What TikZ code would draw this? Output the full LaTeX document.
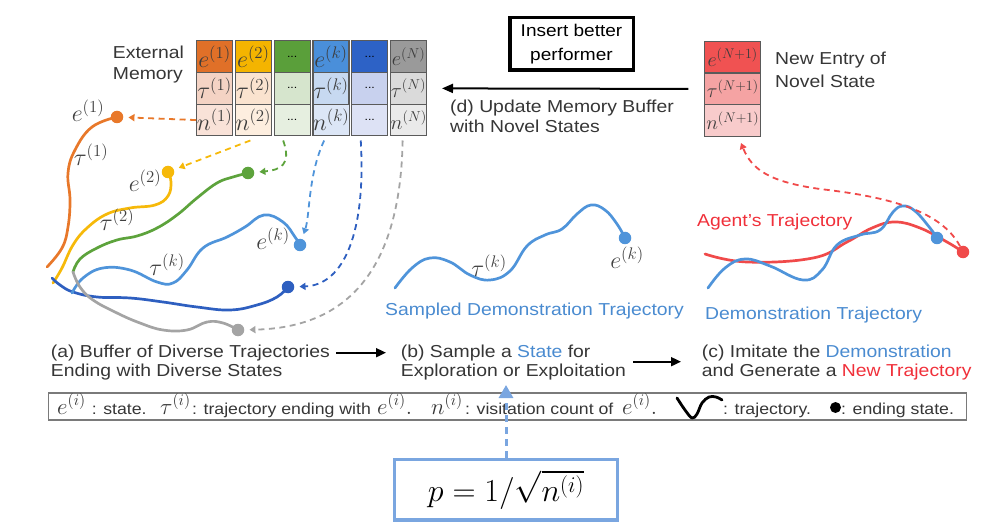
\RequirePackage{fix-cm}
\documentclass[tikz,border=0pt]{standalone}
\usepackage[no-math]{fontspec}
\setmainfont{Liberation Sans}[FakeStretch=1.12]
\usetikzlibrary{arrows.meta}
\definecolor{txtc}{HTML}{363636}
\definecolor{labc}{HTML}{404040}
\definecolor{cellbd}{HTML}{5A5A5A}
\definecolor{celltx}{HTML}{3C3C3C}
\definecolor{orC}{HTML}{E8782A}
\definecolor{yeC}{HTML}{F6B90A}
\definecolor{grC}{HTML}{5DA33C}
\definecolor{lbC}{HTML}{4F94DA}
\definecolor{dbC}{HTML}{2E5FC0}
\definecolor{gyC}{HTML}{A4A4A4}
\definecolor{rdC}{HTML}{F04A4A}
\definecolor{tblue}{HTML}{4A8BD0}
\definecolor{tred}{HTML}{F0303A}
\definecolor{pblue}{HTML}{7AA6E0}
\definecolor{legbd}{HTML}{7A7A7A}
% cell fills
\definecolor{o1}{HTML}{E07028}\definecolor{o2}{HTML}{F4D3C4}\definecolor{o3}{HTML}{F9E2D8}
\definecolor{y1}{HTML}{F4B400}\definecolor{y2}{HTML}{FAE3CF}\definecolor{y3}{HTML}{FDEEDF}
\definecolor{g1}{HTML}{5A9F3A}\definecolor{g2}{HTML}{D6E5CD}\definecolor{g3}{HTML}{E6EFE0}
\definecolor{b1}{HTML}{4A8FDA}\definecolor{b2}{HTML}{C7D9F1}\definecolor{b3}{HTML}{DCE6F6}
\definecolor{k1}{HTML}{2D62C6}\definecolor{k2}{HTML}{C8D1EE}\definecolor{k3}{HTML}{DDE2F5}
\definecolor{s1}{HTML}{9A9A9A}\definecolor{s2}{HTML}{DADADA}\definecolor{s3}{HTML}{EAEAEA}
\definecolor{r1}{HTML}{F05252}\definecolor{r2}{HTML}{F5A3A3}\definecolor{r3}{HTML}{F8CBCB}
\begin{document}
\begin{tikzpicture}[x=1pt,y=-1pt,
  cell/.style={draw=cellbd, line width=1.1pt, minimum width=36pt, minimum height=31.8pt,
    inner sep=0pt, anchor=north west, text=celltx, font=\fontsize{24}{24}\selectfont},
  smallcell/.style={cell, font=\fontsize{20.5}{20.5}\selectfont},
  dotcell/.style={cell, font=\fontsize{11}{11}\selectfont, text=black},
  ncell/.style={cell, minimum width=55.7pt, font=\fontsize{20}{20}\selectfont},
  traj/.style={line width=2.7pt, line cap=round, line join=round},
  dot/.style={circle, inner sep=0pt, minimum size=12.5pt},
  darr/.style={line width=1.8pt, dash pattern=on 6pt off 4.5pt, -{Triangle[length=6pt,width=7pt]}, shorten >=5pt},
  txt/.style={inner sep=0pt, anchor=base west, align=left, text=txtc},
  lab/.style={inner sep=0pt, text=labc, font=\fontsize{24}{24}\selectfont},
  ltext/.style={txt, font=\fontsize{15.8}{18}\selectfont},
  lmath/.style={txt, font=\fontsize{23}{23}\selectfont},
  barr/.style={line width=1.8pt, -{Triangle[length=10pt,width=9pt]}},
]
\useasboundingbox (0,0) rectangle (995,529);

% ---------- External memory table ----------
\node[cell, fill=o1] (c1e) at (196.0,40)    {$e^{(1)}$};
\node[cell, fill=o2] (c1t) at (196.0,71.8)  {$\tau^{(1)}$};
\node[cell, fill=o3] (c1n) at (196.0,103.6) {$n^{(1)}$};
\node[cell, fill=y1] (c2e) at (234.8,40)    {$e^{(2)}$};
\node[cell, fill=y2] (c2t) at (234.8,71.8)  {$\tau^{(2)}$};
\node[cell, fill=y3] (c2n) at (234.8,103.6) {$n^{(2)}$};
\node[dotcell, fill=g1] (c3e) at (273.6,40)    {...};
\node[dotcell, fill=g2] (c3t) at (273.6,71.8)  {...};
\node[dotcell, fill=g3] (c3n) at (273.6,103.6) {...};
\node[cell, fill=b1] (c4e) at (312.4,40)    {$e^{(k)}$};
\node[cell, fill=b2] (c4t) at (312.4,71.8)  {$\tau^{(k)}$};
\node[cell, fill=b3] (c4n) at (312.4,103.6) {$n^{(k)}$};
\node[dotcell, fill=k1] (c5e) at (351.2,40)    {...};
\node[dotcell, fill=k2] (c5t) at (351.2,71.8)  {...};
\node[dotcell, fill=k3] (c5n) at (351.2,103.6) {...};
\node[smallcell, fill=s1] (c6e) at (390.0,40)    {$e^{(N)}$};
\node[smallcell, fill=s2] (c6t) at (390.0,71.8)  {$\tau^{(N)}$};
\node[smallcell, fill=s3] (c6n) at (390.0,103.6) {$n^{(N)}$};

\node[txt, font=\fontsize{17.3}{21.5}\selectfont] (extmem) at (112.7,80) {External\\Memory};

% ---------- New entry ----------
\node[ncell, fill=r1] (ne1) at (704.3,40.7)  {$e^{(N+1)}$};
\node[ncell, fill=r2] (ne2) at (704.3,72.5)  {$\tau^{(N+1)}$};
\node[ncell, fill=r3] (ne3) at (704.3,104.3) {$n^{(N+1)}$};
\node[txt, font=\fontsize{17.3}{22.7}\selectfont] (newent) at (775,87.7) {New Entry of\\Novel State};

% ---------- update arrow ----------
\coordinate (dtip) at (442,88.4);
\draw[line width=2pt, -{Triangle[length=11pt,width=9pt]}] ([xshift=-16pt]ne2.west) -- (dtip);
\node[draw, line width=3.5pt, minimum width=123.5pt, minimum height=52.5pt, inner sep=0pt,
  align=center, font=\fontsize{17}{23.4}\selectfont, text=black] (ins) at (571.5,44) {Insert better\\performer};
\node[txt, font=\fontsize{17.3}{20}\selectfont] (dtext) at (450,132.3) {(d) Update Memory Buffer\\with Novel States};

% ---------- panel (a) trajectories ----------
\draw[traj, orC] plot[smooth, tension=0.7] coordinates {(47,267) (62,248) (68,227) (70,200) (68,173) (75,150) (92,127) (117,117)};
\draw[traj, yeC] plot[smooth, tension=0.7] coordinates {(53,283) (62,268) (73,245) (87,228) (107,214) (130,208) (155,205) (168,196) (171,182) (168,172)};
\draw[traj, grC] plot[smooth, tension=0.7] coordinates {(73,272) (80,259) (97,248) (117,240) (137,236) (157,228) (177,215) (197,198) (217,183) (233,177) (248,173)};
\draw[traj, dbC] plot[smooth, tension=0.7] coordinates {(52,278) (60,285) (73,292) (97,297) (130,298) (163,302) (197,307) (230,310) (257,305) (277,297) (288,287)};
\draw[traj, lbC] plot[smooth, tension=0.7] coordinates {(72,293) (83,278) (103,268) (130,270) (157,282) (173,283) (187,270) (203,248) (227,237) (245,227) (264,215) (283,222) (295,237) (300,245)};
\draw[traj, gyC] plot[smooth, tension=0.7] coordinates {(73,272) (80,287) (93,300) (117,313) (140,323) (163,330) (187,330) (207,322) (223,323) (238,330)};

\node[dot, fill=orC] (d1) at (117,117) {};
\node[dot, fill=yeC] (d2) at (168,172) {};
\node[dot, fill=grC] (d3) at (248,173) {};
\node[dot, fill=lbC] (d4) at (300,245) {};
\node[dot, fill=dbC] (d5) at (288,287) {};
\node[dot, fill=gyC] (d6) at (238,330) {};

\node[lab] (le1) at (88,111) {$e^{(1)}$};
\node[lab] (lt1) at (91,155) {$\tau^{(1)}$};
\node[lab] (le2) at (145,181) {$e^{(2)}$};
\node[lab] (lt2) at (117,220) {$\tau^{(2)}$};
\node[lab] (ltk) at (167,265) {$\tau^{(k)}$};
\node[lab] (lek) at (273,239) {$e^{(k)}$};

% dashed arrows from memory to ending states
\draw[darr, orC] (c1n.west) -- (d1);
\draw[darr, yeC] ([xshift=-3pt,yshift=-4pt]c2n.south) -- (d2);
\draw[darr, grC] ([xshift=-9pt,yshift=-4pt]c3n.south) .. controls (292,165) and (280,170) .. (d3);
\draw[darr, lbC] ([xshift=-7pt,yshift=-4pt]c4n.south) .. controls (308,175) and (310,215) .. (d4);
\draw[darr, dbC] ([xshift=-9pt,yshift=-4pt]c5n.south) .. controls (366,230) and (345,285) .. (d5);
\draw[darr, gyC] ([xshift=-6pt,yshift=-4pt]c6n.south) .. controls (400,290) and (330,328) .. (d6);

% ---------- panel (b) ----------
\draw[traj, lbC] plot[smooth, tension=0.7] coordinates {(395,288) (412,268) (430,258) (450,262) (470,275) (490,280) (510,271) (527,246) (545,235) (562,229) (577,214) (591,205) (605,210) (617,224) (625,238)};
\node[dot, fill=lbC] (db) at (625,238) {};
\node[lab] (lbt) at (489,266) {$\tau^{(k)}$};
\node[lab] (lbe) at (627,258) {$e^{(k)}$};
\node[txt, text=tblue, font=\fontsize{17.3}{20}\selectfont] (sdt) at (385,315) {Sampled Demonstration Trajectory};

% ---------- panel (c) ----------
\draw[traj, rdC] plot[smooth, tension=0.7] coordinates {(705,254) (747,262) (813,258) (847,242) (872,228) (895,222) (920,228) (947,242) (963,252)};
\draw[traj, lbC] plot[smooth, tension=0.7] coordinates {(708,288) (725,268) (745,259) (770,266) (803,280) (822,270) (837,245) (860,235) (880,230) (893,212) (903,206) (915,211) (930,228) (937,238)};
\node[dot, fill=lbC] (dcb) at (937,238) {};
\node[dot, fill=rdC] (dr) at (963,252) {};
\node[txt, text=tred, font=\fontsize{17.3}{20}\selectfont] (agt) at (697,226.7) {Agent’s Trajectory};
\node[txt, text=tblue, font=\fontsize{17.3}{20}\selectfont] (demt) at (705,319.3) {Demonstration Trajectory};
\coordinate (newtip) at (741,143);
\draw[darr, rdC, shorten >=0pt] (dr) .. controls (940,208) and (880,196) .. (820,189) .. controls (770,182) and (752,170) .. (newtip);

% ---------- captions ----------
\node[txt, font=\fontsize{17.3}{19.4}\selectfont] (ta) at (50.7,376.7) {(a) Buffer of Diverse Trajectories\\Ending with Diverse States};
\node[txt, font=\fontsize{17.3}{19.4}\selectfont] (tb) at (400.7,376.7) {(b) Sample a \textcolor{tblue}{State} for\\Exploration or Exploitation};
\node[txt, font=\fontsize{17.3}{19.4}\selectfont] (tc) at (701.7,376.7) {(c) Imitate the \textcolor{tblue}{Demonstration}\\and Generate a \textcolor{tred}{New Trajectory}};
\coordinate (ab1) at (336,352.7); \coordinate (ab2) at (386,352.7);
\coordinate (bc1) at (633,361.7); \coordinate (bc2) at (681,361.7);
\draw[barr] (ab1) -- (ab2);
\draw[barr] (bc1) -- (bc2);

% ---------- legend ----------
\node[draw=legbd, line width=1.3pt, minimum width=918pt, minimum height=27pt, inner sep=0pt] (legend) at (507.5,406.5) {};
\node[lmath] (l1) at (57,414) {$e^{(i)}$};
\node[ltext] (l2) at (91.7,414) {: state.};
\node[lmath] (l3) at (160,414) {$\tau^{(i)}$};
\node[ltext] (l4) at (192,414) {: trajectory ending with};
\node[lmath] (l5) at (377,414) {$e^{(i)}.$};
\node[lmath] (l6) at (431,414) {$n^{(i)}$};
\node[ltext] (l7) at (465,414) {: visitation count of};
\node[lmath] (l8) at (622,414) {$e^{(i)}.$};
\draw[line width=2.8pt, line cap=round, line join=round] plot[smooth, tension=0.6] coordinates {(677,398) (685,410) (692,418) (697,414) (702,403) (709,397) (716,397) (722,400)};
\node[ltext] (l9) at (723,414) {: trajectory.};
\node[dot, fill=black, minimum size=11pt] (l10dot) at (835.5,407.5) {};
\node[ltext] (l10) at (841,414) {: ending state.};

% ---------- sampling probability ----------
\node[draw=pblue, line width=3.5pt, minimum width=223pt, minimum height=60.5pt, inner sep=0pt,
  font=\fontsize{32}{32}\selectfont] (pbox) at (506,489.7) {$p=1/\sqrt{n^{(i)}}$};
\coordinate (ptip) at (506,385);
\draw[line width=3pt, pblue, dash pattern=on 7pt off 5pt, -{Triangle[length=13pt,width=14pt]}] (pbox.north) -- (ptip);
\end{tikzpicture}
\end{document}
